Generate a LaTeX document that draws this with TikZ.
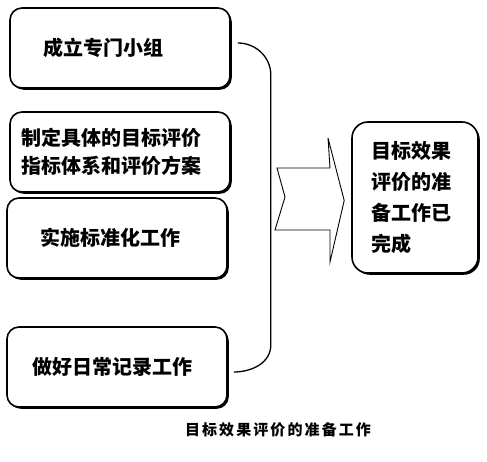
\documentclass[tikz,border=0pt]{standalone}
\usepackage{fontspec}
\newfontfamily\cjk{Noto Sans CJK SC}
\usetikzlibrary{calc,shadows}

\begin{document}
\begin{tikzpicture}[x=1pt,y=1pt,line width=1.6pt,
  stepbox/.style={draw,rounded corners=12pt,fill=white,minimum width=220pt,minimum height=80pt,
    text width=198pt,align=left,inner xsep=11pt,font=\cjk\bfseries\fontsize{20}{28}\selectfont,
    general shadow={fill=black,shadow xshift=1.8pt,shadow yshift=-1.8pt}},
  donebox/.style={stepbox,rounded corners=16pt,minimum width=126pt,minimum height=151pt,
    text width=88pt,inner xsep=19pt,font=\cjk\bfseries\fontsize{20}{31}\selectfont}]
  \useasboundingbox (0,0) rectangle (487,461);
  % cuatro pasos a la izquierda
  \node[stepbox] (b1) at (120,413) {\hspace*{22pt}成立专门小组\\[-2pt]};
  \node[stepbox] (b2) at (120,309) {制定具体的目标评价\\指标体系和评价方案};
  \node[stepbox] (b3) at (117,223) {\hspace*{22pt}实施标准化工作};
  \node[stepbox] (b4) at (117,94) {\hspace*{14pt}做好日常记录工作};
  % resultado
  \node[donebox] (res) at (415,263.5) {目标效果\\评价的准\\备工作已\\完成\\[4pt]};
  % llave
  \coordinate (top) at ($(b1.east)+(7,5)$);
  \coordinate (bot) at ($(b4.east)+(6,-5)$);
  \draw[line width=1.3pt] (top) to[out=0,in=90] ($(top)+(33,-32)$) -- ($(bot)+(37,27)$) to[out=-90,in=0] (bot);
  % flecha ancha
  \draw[line width=0.9pt,line join=miter] (277,293) -- (285,264) -- (275,231) -- (330,231) -- (330,199)
    -- ($(res.west)+(-7,-3)$) -- (328,323) -- (330,293) -- cycle;
  \node[font=\cjk\bfseries\fontsize{15}{17}\selectfont\addfontfeatures{LetterSpace=14}] (cap) at (278,31) {目标效果评价的准备工作};
\end{tikzpicture}
\end{document}
